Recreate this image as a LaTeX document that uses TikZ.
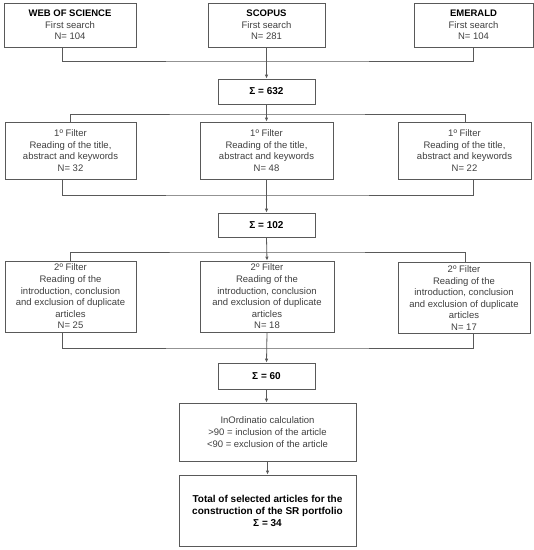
\documentclass[tikz,border=0pt]{standalone}
\usepackage{fontspec}
\setmainfont{Liberation Sans}
\usetikzlibrary{arrows.meta}
\definecolor{linecol}{gray}{0.35}
\definecolor{txtcol}{gray}{0.25}
\begin{document}
\begin{tikzpicture}[x=1pt,y=-1pt,
  box/.style={draw=linecol,line width=0.8pt,fill=white,inner sep=1pt,align=center,
    text=txtcol,font=\fontsize{9.5}{11.6}\selectfont},
  sbox/.style={box,text=black,font=\fontsize{10}{12}\selectfont\bfseries},
  conn/.style={draw=linecol,line width=0.8pt},
  arr/.style={conn,-{Latex[length=4pt,width=3.5pt]}}]
\useasboundingbox (0,0) rectangle (534,550);
% top row
\node[box,minimum width=132pt,minimum height=44pt] (wos) at (70,25) {\textbf{\color{black}WEB OF SCIENCE}\\First search\\N= 104};
\node[box,minimum width=117pt,minimum height=44pt] (scopus) at (266.5,25) {\textbf{\color{black}SCOPUS}\\First search\\N= 281};
\node[box,minimum width=119pt,minimum height=44pt] (emerald) at (473.5,25) {\textbf{\color{black}EMERALD}\\First search\\N= 104};
\node[sbox,minimum width=97pt,minimum height=25pt] (s1) at (266.5,91.5) {Σ = 632};
% filter 1
\node[box,minimum width=131pt,minimum height=57pt] (f1a) at (70.5,150.5) {1º Filter\\Reading of the title,\\abstract and keywords\\N= 32};
\node[box,minimum width=133pt,minimum height=57pt] (f1b) at (266.5,150.5) {1º Filter\\Reading of the title,\\abstract and keywords\\N= 48};
\node[box,minimum width=133pt,minimum height=57pt] (f1c) at (464.5,150.5) {1º Filter\\Reading of the title,\\abstract and keywords\\N= 22};
\node[sbox,minimum width=97pt,minimum height=24pt] (s2) at (266.5,225) {Σ = 102};
% filter 2
\node[box,minimum width=131pt,minimum height=71pt] (f2a) at (70.5,296.5) {2º Filter\\Reading of the\\introduction, conclusion\\and exclusion of duplicate\\articles\\N= 25};
\node[box,minimum width=134pt,minimum height=71pt] (f2b) at (267,296.5) {2º Filter\\Reading of the\\introduction, conclusion\\and exclusion of duplicate\\articles\\N= 18};
\node[box,minimum width=132pt,minimum height=71pt] (f2c) at (464,298) {2º Filter\\Reading of the\\introduction, conclusion\\and exclusion of duplicate\\articles\\N= 17};
\node[sbox,minimum width=97pt,minimum height=26pt] (s3) at (266.5,376) {Σ = 60};
\node[box,minimum width=177pt,minimum height=58pt] (ino) at (267.5,432) {InOrdinatio calculation\\>90 = inclusion of the article\\<90 = exclusion of the article};
\node[sbox,minimum width=177pt,minimum height=71pt] (fin) at (267.5,510.5) {Total of selected articles for the\\construction of the SR portfolio\\Σ = 34};
% connectors top
\coordinate (j1) at (267,61);
\draw[conn] ([xshift=-8pt]wos.south) |- (j1) -| (emerald.south);
\draw[arr] (scopus.south) -- (s1.north);
\coordinate (j2) at (267,114);
\draw[arr] (s1.south) -- (f1b.north);
\draw[conn] ([xshift=-0.5pt]f1a.north) |- (j2) -| ([xshift=0.5pt]f1c.north);
% filter1 to s2
\coordinate (j3) at (267,195);
\draw[conn] ([xshift=-8.5pt]f1a.south) |- (j3) -| ([xshift=8.5pt]f1c.south);
\draw[arr] (f1b.south) -- (s2.north);
% s2 to filter 2
\coordinate (j4) at (267,252);
\draw[arr] (s2.south) -- (f2b.north);
\draw[conn] ([xshift=-0.5pt]f2a.north) |- (j4) -| ([xshift=1pt]f2c.north);
% filter2 to s3
\coordinate (j5) at (267,348);
\draw[conn] ([xshift=-8.5pt]f2a.south) |- (j5) -| ([xshift=9pt]f2c.south);
\draw[arr] (f2b.south) -- (s3.north);
\draw[arr] (s3.south) -- (s3.south |- ino.north);
\draw[arr] (ino.south) -- (ino.south |- fin.north);
\end{tikzpicture}
\end{document}
